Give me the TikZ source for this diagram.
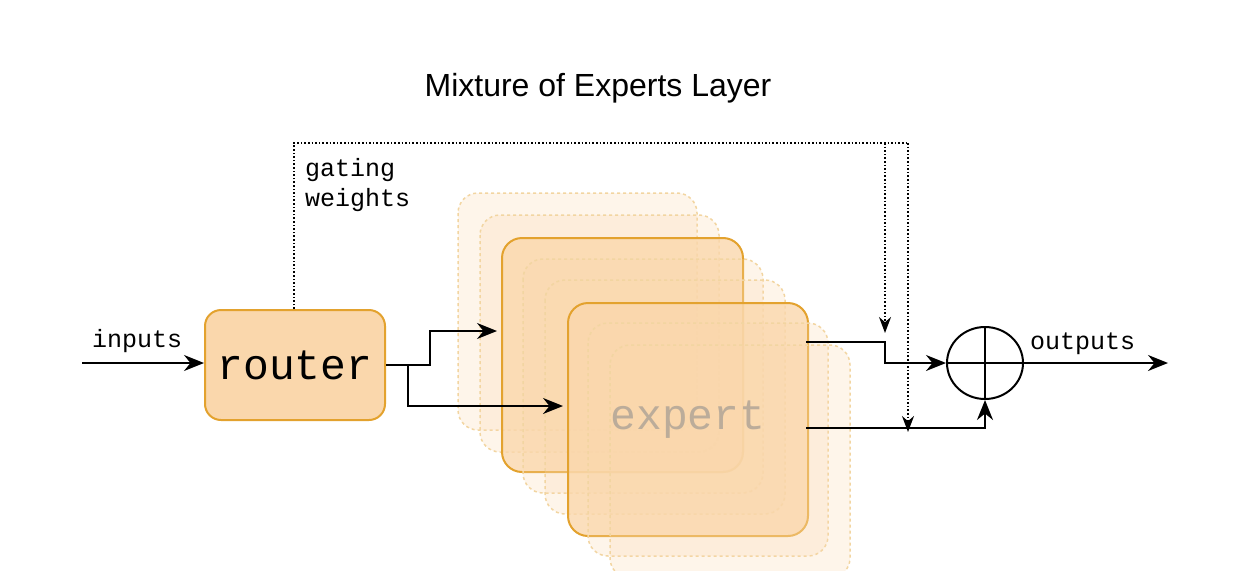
\documentclass[tikz,border=0pt]{standalone}
\usepackage{fontspec}
\setmainfont{Liberation Sans}
\newfontfamily\mono{Liberation Mono}
\usetikzlibrary{arrows.meta,shapes.geometric}
\definecolor{peach}{HTML}{FAD7AC}
\definecolor{gold}{HTML}{E3A22E}
\begin{document}
\begin{tikzpicture}[x=1pt,y=-1pt,
  arr/.style={-{Stealth[length=20pt,width=16pt]},line width=2pt},
  ln/.style={line width=2pt},
  dot/.style={dotted,line width=1.6pt},
  ghost/.style={draw=gold!45,dashed,line width=1.5pt,fill=peach,fill opacity=0.25,rounded corners=20pt},
  solidbox/.style={draw=gold,line width=2pt,fill=peach,fill opacity=0.8,rounded corners=20pt},
  lbl/.style={font=\mono\fontsize{25}{30}\selectfont,inner sep=0pt}]
\useasboundingbox (0,0) rectangle (1257,570);
\node[font=\fontsize{32}{36}\selectfont] (title) at (598,88) {Mixture of Experts Layer};
% expert stack
\draw[ghost] (458,193) rectangle (697,430);
\draw[ghost] (480,215) rectangle (719,452);
\draw[solidbox] (502,238) rectangle (743,472);
\draw[ghost] (523,259) rectangle (763,493);
\draw[ghost] (545,280) rectangle (785,514);
\node[solidbox,minimum width=240pt,minimum height=233pt,anchor=north west,text opacity=1,font=\mono\fontsize{43}{48}\selectfont,text=black!45] (expert) at (567,302) {expert};
\draw[ghost] (588,323) rectangle (828,556);
\draw[ghost] (610,345) rectangle (850,578);
% router
\node[draw=gold,line width=2pt,fill=peach,rounded corners=16pt,minimum width=180pt,minimum height=110pt,font=\mono\fontsize{43}{48}\selectfont] (router) at (295,365) {router};
\coordinate (in) at (82,363);
\draw[arr] (in) -- (router.west |- in);
\node[lbl,anchor=south west] (inputs) at (92,353) {inputs};
% adder
\node[draw,line width=2pt,ellipse,minimum width=76pt,minimum height=72pt,inner sep=0pt] (sum) at (985,363) {};
\draw[line width=2pt] (sum.north) -- (sum.south) (sum.west) -- (sum.east);
\coordinate (out) at (1168,363);
\draw[arr] (sum.east) -- (out);
\node[lbl,anchor=south west] (outputs) at (1030,355) {outputs};
% router to experts
\coordinate (r1) at (408,365);
\draw[ln] (router.east |- r1) -- (r1);
\draw[arr] (r1) -- (430,365) -- (430,331) -- (497,331);
\draw[arr] (r1) -- (408,406) -- (563,406);
% outputs of experts
\draw[arr] (806,342) -- (885,342) -- (885,363) -- (sum.west);
\draw[arr] (806,428) -- (985,428) -- (sum.south);
% gating
\coordinate (g1) at (294,143);
\draw[dot] (router.north -| g1) -- (g1) -- (908,143);
\draw[dot,-{Stealth[length=16pt,width=12pt]}] (885,143) -- (885,333);
\draw[dot,-{Stealth[length=16pt,width=12pt]}] (908,143) -- (908,432);
\node[lbl,anchor=west,align=left] (gw) at (305,185) {gating\\weights};
\end{tikzpicture}
\end{document}
